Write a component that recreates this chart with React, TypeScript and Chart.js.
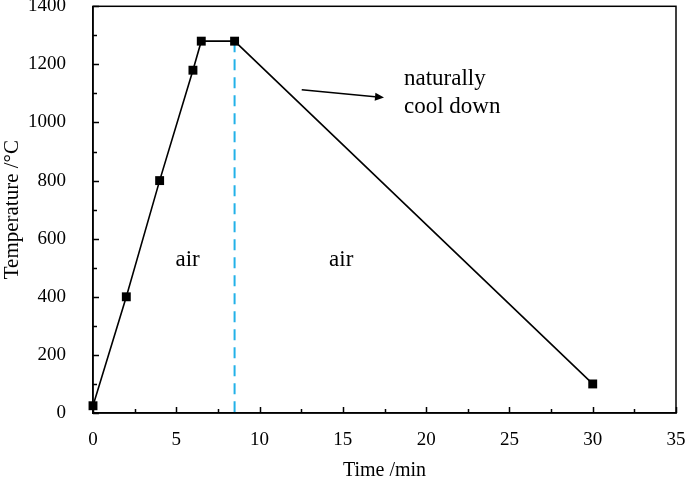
import React, { useEffect, useRef } from "react";
import { Chart, registerables } from "chart.js";

Chart.register(...registerables);

// ---- data ----
const timeMin = [0, 2, 4, 6, 6.5, 8.5, 30];
const temperatureC = [25, 400, 800, 1180, 1280, 1280, 100];
const dividerTime = [8.5, 8.5];
const dividerTemp = [1280, 0];
const xMin = 0;
const xMax = 35;
const xStep = 5;
const yMin = 0;
const yMax = 1400;
const yStep = 200;
const regionLabels = ["air", "air"];
const regionLabelTime = [5.68, 14.9];
const regionLabelTemp = [505, 505];
const noteLines = ["naturally", "cool down"];
const noteTime = 18.67;
const noteTemp = [1130, 1034];
const arrowTime = [12.53, 17.47];
const arrowTemp = [1113, 1086];

const FONT = '"Liberation Serif", "Times New Roman", serif';

const decor = {
  id: "decor",
  afterDatasetsDraw(chart: any) {
    const { ctx, chartArea, scales } = chart;
    const { left, right, top, bottom } = chartArea;
    const x = scales.x;
    const y = scales.y;
    ctx.save();
    ctx.strokeStyle = "#000";
    ctx.lineWidth = 1.5;
    ctx.strokeRect(left, top, right - left, bottom - top);
    ctx.beginPath();
    for (let v = xMin; v <= xMax + 1e-9; v += xStep / 2) {
      const px = Math.round(x.getPixelForValue(v)) + 0.5;
      const len = Math.abs(v % xStep) < 1e-9 ? 6 : 4;
      ctx.moveTo(px, bottom);
      ctx.lineTo(px, bottom - len);
    }
    for (let v = yMin; v <= yMax + 1e-9; v += yStep / 2) {
      const py = Math.round(y.getPixelForValue(v)) + 0.5;
      const len = Math.abs(v % yStep) < 1e-9 ? 6 : 4;
      ctx.moveTo(left, py);
      ctx.lineTo(left + len, py);
    }
    ctx.stroke();

    ctx.fillStyle = "#000";
    ctx.font = `23px ${FONT}`;
    ctx.textBaseline = "alphabetic";
    ctx.textAlign = "center";
    regionLabels.forEach((t, i) => {
      ctx.fillText(t, x.getPixelForValue(regionLabelTime[i]), y.getPixelForValue(regionLabelTemp[i]));
    });
    ctx.textAlign = "left";
    noteLines.forEach((t, i) => {
      ctx.fillText(t, x.getPixelForValue(noteTime), y.getPixelForValue(noteTemp[i]));
    });

    // arrow
    const x0 = x.getPixelForValue(arrowTime[0]);
    const y0 = y.getPixelForValue(arrowTemp[0]);
    const x1 = x.getPixelForValue(arrowTime[1]);
    const y1 = y.getPixelForValue(arrowTemp[1]);
    const ang = Math.atan2(y1 - y0, x1 - x0);
    const hl = 9;
    const hw = 4;
    const bx = x1 - hl * Math.cos(ang);
    const by = y1 - hl * Math.sin(ang);
    ctx.lineWidth = 1.5;
    ctx.beginPath();
    ctx.moveTo(x0, y0);
    ctx.lineTo(bx, by);
    ctx.stroke();
    ctx.beginPath();
    ctx.moveTo(x1, y1);
    ctx.lineTo(bx + hw * Math.sin(ang), by - hw * Math.cos(ang));
    ctx.lineTo(bx - hw * Math.sin(ang), by + hw * Math.cos(ang));
    ctx.closePath();
    ctx.fill();
    ctx.restore();
  },
};

export default function App() {
  const ref = useRef<HTMLCanvasElement>(null);
  useEffect(() => {
    if (!ref.current) return;
    const chart = new Chart(ref.current, {
      type: "scatter",
      data: {
        datasets: [
          {
            data: timeMin.map((t, i) => ({ x: t, y: temperatureC[i] })),
            showLine: true,
            borderColor: "#000",
            backgroundColor: "#000",
            borderWidth: 1.6,
            pointStyle: "rect",
            pointRadius: 6.3,
            pointHoverRadius: 6.3,
            pointBorderWidth: 0,
            clip: false,
            order: 0,
          } as any,
          {
            data: dividerTime.map((t, i) => ({ x: t, y: dividerTemp[i] })),
            showLine: true,
            borderColor: "#22B1E8",
            borderWidth: 2,
            borderDash: [11, 7],
            pointRadius: 0,
            order: 1,
          } as any,
        ],
      },
      options: {
        animation: false,
        responsive: false,
        events: [],
        layout: { padding: { left: 0, top: 6, right: 9, bottom: 0 } },
        plugins: { legend: { display: false }, tooltip: { enabled: false } },
        scales: {
          x: {
            type: "linear",
            min: xMin,
            max: xMax,
            grid: { display: false },
            border: { display: true, color: "#000", width: 1.5 },
            ticks: {
              stepSize: xStep,
              color: "#000",
              padding: 8,
              maxRotation: 0,
              font: { family: FONT, size: 19 },
              callback: (v: any) => String(v),
            },
            title: {
              display: true,
              text: "Time /min",
              color: "#000",
              padding: { top: 0, bottom: -6 },
              font: { family: FONT, size: 20 },
            },
            afterFit(scale: any) {
              scale.height = 64;
              scale.paddingLeft = 0;
              scale.paddingRight = 0;
            },
          },
          y: {
            type: "linear",
            min: yMin,
            max: yMax,
            grid: { display: false },
            border: { display: true, color: "#000", width: 1.5 },
            ticks: {
              stepSize: yStep,
              color: "#000",
              padding: 19,
              font: { family: FONT, size: 19 },
              callback: (v: any) => String(v),
            },
            title: {
              display: true,
              text: "Temperature /\u00B0C",
              color: "#000",
              padding: { top: 0, bottom: 0 },
              font: { family: FONT, size: 21 },
            },
            afterFit(scale: any) {
              scale.width = 93;
              scale.paddingTop = 0;
              scale.paddingBottom = 0;
            },
          },
        },
      },
      plugins: [decor],
    } as any);
    return () => chart.destroy();
  }, []);
  return (
    <div style={{ position: "absolute", left: 0, top: 0, width: 685, height: 477, background: "#fff" }}>
      <canvas ref={ref} width={685} height={477} />
    </div>
  );
}
